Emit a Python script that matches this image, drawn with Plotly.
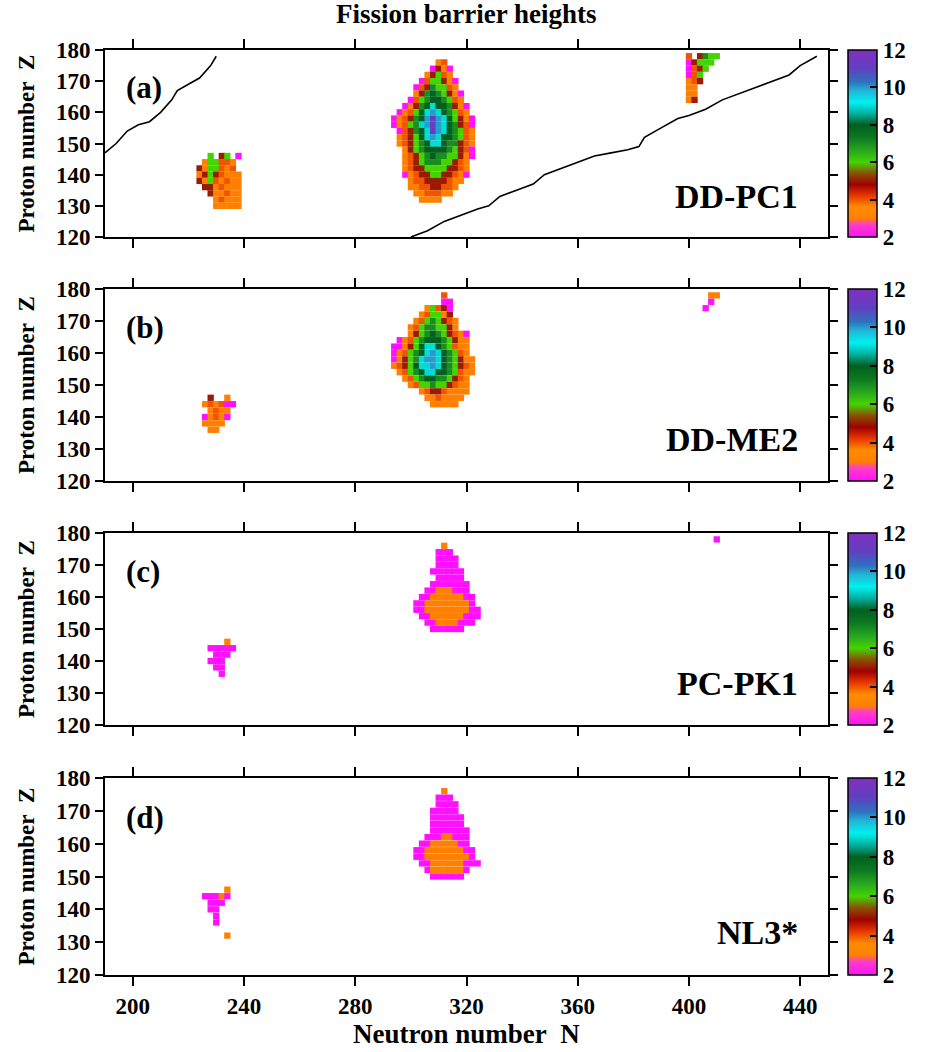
import plotly.graph_objects as go

# ---------------- data ----------------
# Each island: first N column, top Z row, rows of barrier codes (step 2 in N and Z)
# code: digit = barrier height in MeV, A = 10, B = 11, '.' = no value
CODE = {'2': 2, '3': 3, '4': 4, '5': 5, '6': 6, '7': 7, '8': 8, '9': 9, 'A': 10, 'B': 11}

A_MID_N0, A_MID_Z0 = 292, 176
A_MID = [
    ".........34......",
    "........2532.....",
    ".......35643.....",
    "......2466532....",
    ".....24576643....",
    ".....357876532...",
    "....2467887643...",
    "...235789887532..",
    "..234689A987643..",
    ".234578ABA986532.",
    ".234679ABA987542.",
    "..245789BA987643.",
    "..345689A9887643.",
    "..34567899877543.",
    "...3567888876542.",
    "...3456787766532.",
    "...345677766543..",
    "...345566665543..",
    "...234556655432..",
    "....3445555433...",
    "....334455443....",
    ".....3344433.....",
    "......3333.......",
]
A_LEFT_N0, A_LEFT_Z0 = 224, 146
A_LEFT = [
    "..6.56.2",
    ".366443.",
    "5366434.",
    "35654333",
    "53643433",
    ".5534333",
    "..533433",
    "...34333",
    "...33333",
]
A_RIGHT_N0, A_RIGHT_Z0 = 400, 178
A_RIGHT = [
    "4.5766",
    "25666.",
    "2456..",
    "246...",
    "345...",
    "33....",
    "33....",
    "35....",
]

B_MID_N0, B_MID_Z0 = 292, 178
B_MID = [
    "..........4......",
    "..........22.....",
    ".......36452.....",
    "......346635.....",
    ".....34676543....",
    "....346776653....",
    "....35678765432..",
    "..2346788876533..",
    ".22356899876433..",
    ".2346789A987643..",
    ".235679AA9876533.",
    ".3456899A9876543.",
    "..34678998876433.",
    "...346788776543..",
    "....34667665433..",
    "......345543333..",
    ".......3343333...",
    "........33333....",
]
B_LEFT_N0, B_LEFT_Z0 = 226, 146
B_LEFT = [
    ".5..3.",
    "343422",
    ".3433.",
    "23432.",
    "3333..",
    ".33...",
]
B_RIGHT_N0, B_RIGHT_Z0 = 406, 178
B_RIGHT = [
    ".33",
    ".2.",
    "2..",
]

C_MID_N0, C_MID_Z0 = 302, 176
C_MID = [
    ".....3......",
    "....222.....",
    "....2222....",
    "....2222....",
    "...222222...",
    "....22222...",
    "...2222222..",
    "..22333222..",
    ".2233333322.",
    "22333333332.",
    "223333333322",
    ".22333333222",
    "..223333222.",
    "...222222...",
]
C_LEFT_N0, C_LEFT_Z0 = 228, 146
C_LEFT = [
    "...3.",
    "22222",
    ".222.",
    "222..",
    ".22..",
    "..2..",
]
C_RIGHT_N0, C_RIGHT_Z0 = 410, 178
C_RIGHT = ["2"]

D_MID_N0, D_MID_Z0 = 302, 176
D_MID = [
    ".....3......",
    "....222.....",
    "....2222....",
    "...22222....",
    "...222222...",
    "...222222...",
    "...2222222..",
    "..22233222..",
    ".223333322..",
    "22333333322.",
    "22333333332.",
    ".22333333222",
    "..23333332..",
    "...222222...",
]
D_LEFT_N0, D_LEFT_Z0 = 226, 146
D_LEFT = [
    "....3.",
    "22232.",
    ".222..",
    ".22...",
    "..2...",
    "..2...",
    "......",
    "....3.",
]

# drip lines drawn in panel (a)
LINE1_N = [190, 194, 198, 202, 206, 210, 214, 216, 220, 224, 228, 230]
LINE1_Z = [147, 150, 154, 156, 157, 160, 164, 167, 169, 171, 175, 178]
LINE2_N = [300, 306, 312, 318, 324, 328, 332, 338, 344, 348, 354, 360, 366, 372, 378,
           382, 384, 390, 396, 400, 406, 412, 418, 424, 430, 436, 440, 444, 446]
LINE2_Z = [120, 122, 125, 127, 129, 130, 133, 135, 137, 140, 142, 144, 146, 147, 148,
           149, 152, 155, 158, 159, 161, 164, 166, 168, 170, 172, 175, 177, 178]

PANEL_LETTERS = ["(a)", "(b)", "(c)", "(d)"]
PANEL_NAMES = ["DD-PC1", "DD-ME2", "PC-PK1", "NL3*"]
PANEL_ISLANDS = [
    [(A_MID_N0, A_MID_Z0, A_MID), (A_LEFT_N0, A_LEFT_Z0, A_LEFT), (A_RIGHT_N0, A_RIGHT_Z0, A_RIGHT)],
    [(B_MID_N0, B_MID_Z0, B_MID), (B_LEFT_N0, B_LEFT_Z0, B_LEFT), (B_RIGHT_N0, B_RIGHT_Z0, B_RIGHT)],
    [(C_MID_N0, C_MID_Z0, C_MID), (C_LEFT_N0, C_LEFT_Z0, C_LEFT), (C_RIGHT_N0, C_RIGHT_Z0, C_RIGHT)],
    [(D_MID_N0, D_MID_Z0, D_MID), (D_LEFT_N0, D_LEFT_Z0, D_LEFT)],
]
N_TICKS = [200, 240, 280, 320, 360, 400, 440]
Z_TICKS = [120, 130, 140, 150, 160, 170, 180]
CB_TICKS = [2, 4, 6, 8, 10, 12]

# colour scale (value -> colour)
CS_VALUES = [2.0, 2.7, 3.0, 3.6, 4.2, 4.8, 5.4, 6.0, 6.6, 7.3, 8.0, 8.6, 9.2, 9.8, 10.3, 11.0, 12.0]
CS_COLORS = ['#ff10ff', '#ff40c0', '#ff8000', '#ff8c00', '#e83800', '#a00000', '#8a5000',
             '#44d400', '#2aa820', '#0c7a20', '#006020', '#00b0a0', '#00f0f0', '#20b8d8',
             '#3070c0', '#6040c0', '#8030c0']
CMIN, CMAX = 2, 12
COLORSCALE = [[(v - CMIN) / (CMAX - CMIN), c] for v, c in zip(CS_VALUES, CS_COLORS)]

# ---------------- layout geometry (pixels) ----------------
W, H = 932, 1052
PLOT_L, PLOT_R = 105, 828
PANEL_PX = [(50, 237), (289, 481), (533, 725), (778, 975)]
FONT = "Liberation Serif"
TICK_SIZE = 23


def decode(n0, z0, rows):
    ns, zs, bs = [], [], []
    for r, row in enumerate(rows):
        for c, ch in enumerate(row):
            if ch in CODE:
                ns.append(n0 + 2 * c)
                zs.append(z0 - 2 * r)
                bs.append(CODE[ch])
    return ns, zs, bs


fig = go.Figure()
layout = dict(
    width=W, height=H, margin=dict(l=0, r=0, t=0, b=0, autoexpand=False),
    paper_bgcolor="white", plot_bgcolor="white", showlegend=False,
    annotations=[],
)

for i in range(4):
    k = "" if i == 0 else str(i + 1)
    top, bot = PANEL_PX[i]
    dom = [1 - bot / H, 1 - top / H]
    ca = "coloraxis" + k
    xs, ys, vs = [], [], []
    for n0, z0, rows in PANEL_ISLANDS[i]:
        a, b, c = decode(n0, z0, rows)
        xs += a; ys += b; vs += c
    fig.add_trace(go.Scatter(
        x=xs, y=ys, mode="markers", xaxis="x" + k, yaxis="y" + k,
        marker=dict(symbol="square", size=6.3, color=vs, coloraxis=ca, line=dict(width=0)),
        hoverinfo="skip"))
    if i == 0:
        for ln, lz in ((LINE1_N, LINE1_Z), (LINE2_N, LINE2_Z)):
            fig.add_trace(go.Scatter(x=ln, y=lz, mode="lines", xaxis="x", yaxis="y",
                                     line=dict(color="black", width=1.6), hoverinfo="skip"))
    layout["xaxis" + k] = dict(
        domain=[PLOT_L / W, PLOT_R / W], range=[190, 450], anchor="y" + k,
        tickvals=N_TICKS, showticklabels=(i == 3), ticks="outside", ticklen=9, tickwidth=2,
        tickcolor="black", showline=True, linewidth=2, linecolor="black", mirror="ticks",
        showgrid=False, zeroline=False, automargin=False,
        tickfont=dict(family=FONT, size=TICK_SIZE, color="black", weight="bold"))
    layout["yaxis" + k] = dict(
        domain=dom, range=[120, 180], anchor="x" + k, tickvals=Z_TICKS,
        ticks="outside", ticklen=8, tickwidth=2, tickcolor="black",
        showline=True, linewidth=2, linecolor="black", mirror="ticks",
        showgrid=False, zeroline=False, automargin=False,
        tickfont=dict(family=FONT, size=TICK_SIZE, color="black", weight="bold"))
    layout[ca] = dict(
        colorscale=COLORSCALE, cmin=CMIN, cmax=CMAX,
        colorbar=dict(
            x=848 / W, xanchor="left", xpad=0, ypad=0,
            y=(dom[0] + dom[1]) / 2, yanchor="middle", len=dom[1] - dom[0], lenmode="fraction",
            thickness=29, outlinewidth=1.5, outlinecolor="black",
            tickvals=CB_TICKS, ticks="inside", ticklen=7, tickwidth=1.5, tickcolor="black",
            tickfont=dict(family=FONT, size=TICK_SIZE, color="black", weight="bold")))
    xr, yr = "x" + k, "y" + k
    layout["annotations"] += [
        dict(x=197, y=168, xref=xr, yref=yr, text=PANEL_LETTERS[i], showarrow=False,
             xanchor="left", yanchor="middle",
             font=dict(family=FONT, size=31, color="black", weight="bold")),
        dict(x=440, y=133, xref=xr, yref=yr, text=PANEL_NAMES[i], showarrow=False,
             xanchor="right", yanchor="middle",
             font=dict(family=FONT, size=34, color="black", weight="bold")),
        dict(x=26 / W, y=(dom[0] + dom[1]) / 2, xref="paper", yref="paper",
             text="Proton number\u00a0 Z", textangle=-90, showarrow=False,
             xanchor="center", yanchor="middle",
             font=dict(family=FONT, size=23, color="black", weight="bold")),
    ]

layout["annotations"] += [
    dict(x=466 / W, y=1 - 14 / H, xref="paper", yref="paper", text="Fission barrier heights",
         showarrow=False, xanchor="center", yanchor="middle",
         font=dict(family=FONT, size=27, color="black", weight="bold")),
    dict(x=466 / W, y=1 - 1034 / H, xref="paper", yref="paper", text="Neutron number\u00a0 N",
         showarrow=False, xanchor="center", yanchor="middle",
         font=dict(family=FONT, size=27, color="black", weight="bold")),
]

fig.update_layout(**layout)
fig.write_html("out.html")
